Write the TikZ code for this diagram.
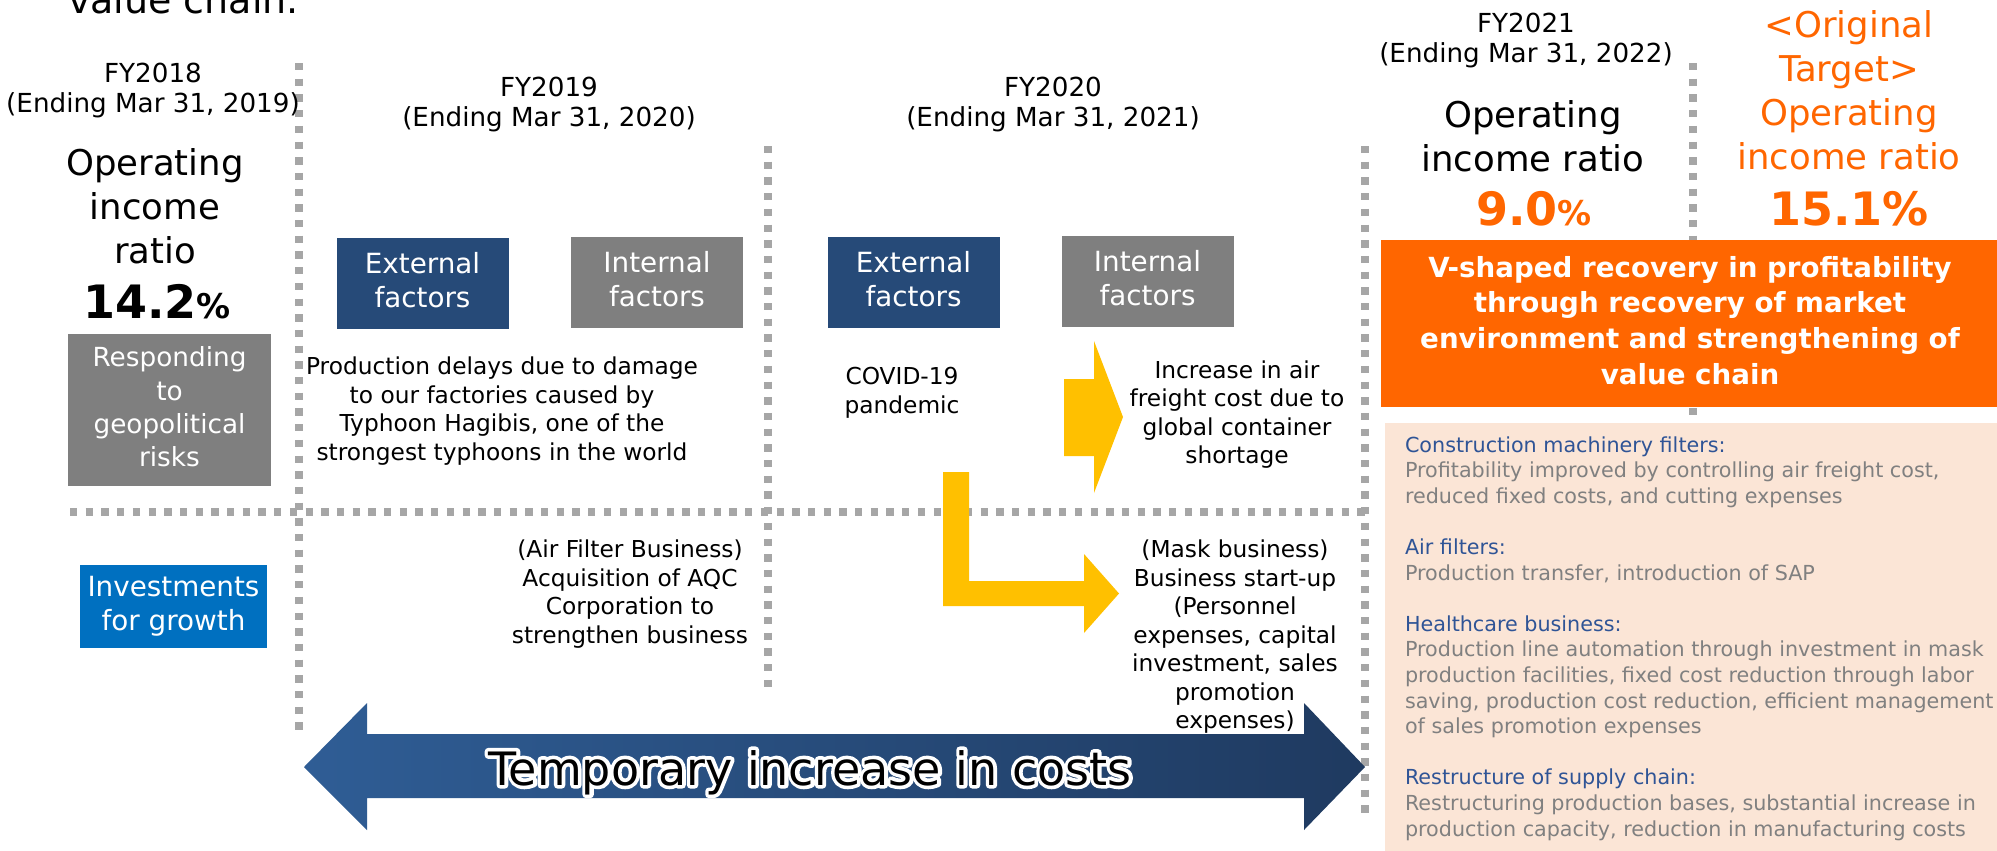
\documentclass[tikz,border=0pt]{standalone}
\usepackage{fontspec}
\setmainfont{DejaVu Sans}

\definecolor{dotgray}{HTML}{A6A6A6}
\definecolor{extblue}{HTML}{264A78}
\definecolor{boxgray}{HTML}{7F7F7F}
\definecolor{growblue}{HTML}{0070C0}
\definecolor{accent}{HTML}{FF6600}
\definecolor{peach}{HTML}{FBE5D6}
\definecolor{notegray}{HTML}{808080}
\definecolor{headblue}{HTML}{2F5496}
\definecolor{amber}{HTML}{FFC000}
\definecolor{arrowL}{HTML}{2F5D95}
\definecolor{arrowR}{HTML}{1F3A60}

% text with a white outline: a stroked white copy under the filled text
\newcommand\haloed[1]{%
  \rlap{\color{white}\special{pdf:literal direct 1 Tr 3.6 w 1 j 1 1 1 RG}#1\special{pdf:literal direct 0 Tr}}%
  #1}

\tikzset{
  every node/.style={inner sep=0pt, outer sep=0pt},
  sepline/.style={draw=dotgray, line width=3.65pt, dash pattern=on 3.65pt off 4.2pt},
  hdr/.style={anchor=north, align=center, font=\fontsize{13.1pt}{15.25pt}\selectfont},
  big/.style={anchor=north, align=center, font=\fontsize{17.75pt}{22pt}\selectfont},
  body/.style={anchor=north, align=center, font=\fontsize{11.65pt}{14.25pt}\selectfont},
  pct/.style={anchor=base, font=\bfseries\fontsize{23pt}{23pt}\selectfont},
  factor/.style={text=white, align=center, minimum width=86pt, minimum height=45.5pt,
    font=\fontsize{13.9pt}{17pt}\selectfont},
}

\begin{document}
\begin{tikzpicture}[x=0.5pt,y=-0.5pt]
\useasboundingbox (0,0) rectangle (1997,851);
\fill[white] (0,0) rectangle (1997,851);

% column separators
\draw[sepline] (299,63) -- (299,737);
\draw[sepline] (768,146) -- (768,688);
\draw[sepline] (1365,146) -- (1365,817);
\draw[sepline] (1693,63) -- (1693,415);
\draw[sepline] (70,512) -- (1366,512);

% title tail
\node[anchor=base west, font=\fontsize{19pt}{19pt}\selectfont] (title) at (68,13) {value chain.};

% FY2018
\node[hdr] (fy18) at (153,60.65) {\strut FY2018\\\strut(Ending Mar 31, 2019)};
\node[big] (oir18) at (155,144.2) {\strut Operating\\\strut income\\\strut ratio};
\node[pct] (v18) at (157,318) {14.2{\fontsize{17pt}{17pt}\selectfont\%}};
\node[fill=boxgray, text=white, align=center, minimum width=101.5pt, minimum height=76pt,
  font=\fontsize{13.15pt}{16.65pt}\selectfont] (geo) at (169.5,410)
  {\strut Responding\\\strut to\\\strut geopolitical\\\strut risks};
\node[fill=growblue, text=white, align=center, minimum width=93.5pt, minimum height=41.5pt,
  font=\fontsize{13.9pt}{17pt}\selectfont] (growth) at (173.5,606.5)
  {\strut Investments\\\strut for growth};

% FY2019
\node[hdr] (fy19) at (549,74.65) {\strut FY2019\\\strut(Ending Mar 31, 2020)};
\node[factor, fill=extblue] (ext19) at (422.5,283.5) {\strut External\\\strut factors};
\node[factor, fill=boxgray] (int19) at (657,282.5) {\strut Internal\\\strut factors};
\node[body] (typhoon) at (502,355) {\strut Production delays due to damage\\\strut to our factories caused by\\\strut Typhoon Hagibis, one of the\\\strut strongest typhoons in the world};
\node[body] (aqc) at (630,537.7) {\strut (Air Filter Business)\\\strut Acquisition of AQC\\\strut Corporation to\\\strut strengthen business};

% FY2020
\node[hdr] (fy20) at (1053,74.65) {\strut FY2020\\\strut(Ending Mar 31, 2021)};
\node[factor, fill=extblue] (ext20) at (913.5,282.5) {\strut External\\\strut factors};
\node[factor, fill=boxgray] (int20) at (1147.5,281.5) {\strut Internal\\\strut factors};
\node[body] (covid) at (902,365) {\strut COVID-19\\\strut pandemic};
\node[body] (freight) at (1237,358.3) {\strut Increase in air\\\strut freight cost due to\\\strut global container\\\strut shortage};
\node[body] (mask) at (1235,537.7) {\strut (Mask business)\\\strut Business start-up\\\strut (Personnel\\\strut expenses, capital\\\strut investment, sales\\\strut promotion\\\strut expenses)};

% yellow block arrows
\fill[amber] (1064,379) -- (1094,379) -- (1094,341) -- (1123,417) -- (1094,493)
  -- (1094,456) -- (1064,456) -- cycle;
\fill[amber] (943,472) -- (969,472) -- (969,581) -- (1084,581) -- (1084,554)
  -- (1119,593.5) -- (1084,633) -- (1084,606) -- (943,606) -- cycle;

% FY2021 and original target
\node[hdr] (fy21) at (1526,10.65) {\strut FY2021\\\strut(Ending Mar 31, 2022)};
\node[big] (oir21) at (1533,96.2) {\strut Operating\\\strut income ratio};
\node[pct, text=accent] (v21) at (1534,225) {9.0{\fontsize{17pt}{17pt}\selectfont\%}};
\node[big, text=accent] (target) at (1849,6.2) {\strut <Original\\\strut Target>\\\strut Operating\\\strut income ratio};
\node[pct, text=accent] (vtarget) at (1849,225) {15.1\%};

\node[fill=accent, text=white, align=center, minimum width=309pt, minimum height=83.5pt,
  font=\bfseries\fontsize{13.85pt}{17.85pt}\selectfont] (recovery) at (1690,323.5)
  {\strut V-shaped recovery in profitability\\\strut through recovery of market\\\strut environment and strengthening of\\\strut value chain};

% measures panel
\node[fill=peach, anchor=north west, minimum width=306pt, minimum height=214pt] (panel) at (1385,423) {};
\node[anchor=north west, align=left, text=notegray, font=\fontsize{10.35pt}{12.8pt}\selectfont] (measures) at (1405,434.1)
  {\strut\textcolor{headblue}{Construction machinery filters:}\\
   \strut Profitability improved by controlling air freight cost,\\
   \strut reduced fixed costs, and cutting expenses\\[12.8pt]
   \strut\textcolor{headblue}{Air filters:}\\
   \strut Production transfer, introduction of SAP\\[12.8pt]
   \strut\textcolor{headblue}{Healthcare business:}\\
   \strut Production line automation through investment in mask\\
   \strut production facilities, fixed cost reduction through labor\\
   \strut saving, production cost reduction, efficient management\\
   \strut of sales promotion expenses\\[12.8pt]
   \strut\textcolor{headblue}{Restructure of supply chain:}\\
   \strut Restructuring production bases, substantial increase in\\
   \strut production capacity, reduction in manufacturing costs};

% double-headed cost arrow
\shade[left color=arrowL, right color=arrowR] (304,767) -- (367,703) -- (367,734) -- (1304,734)
  -- (1304,703) -- (1365,767) -- (1304,830) -- (1304,798) -- (367,798) -- (367,830) -- cycle;
\node[anchor=base, font=\fontsize{23pt}{23pt}\selectfont] (costs) at (810,785) {\haloed{Temporary increase in costs}};
\end{tikzpicture}
\end{document}
